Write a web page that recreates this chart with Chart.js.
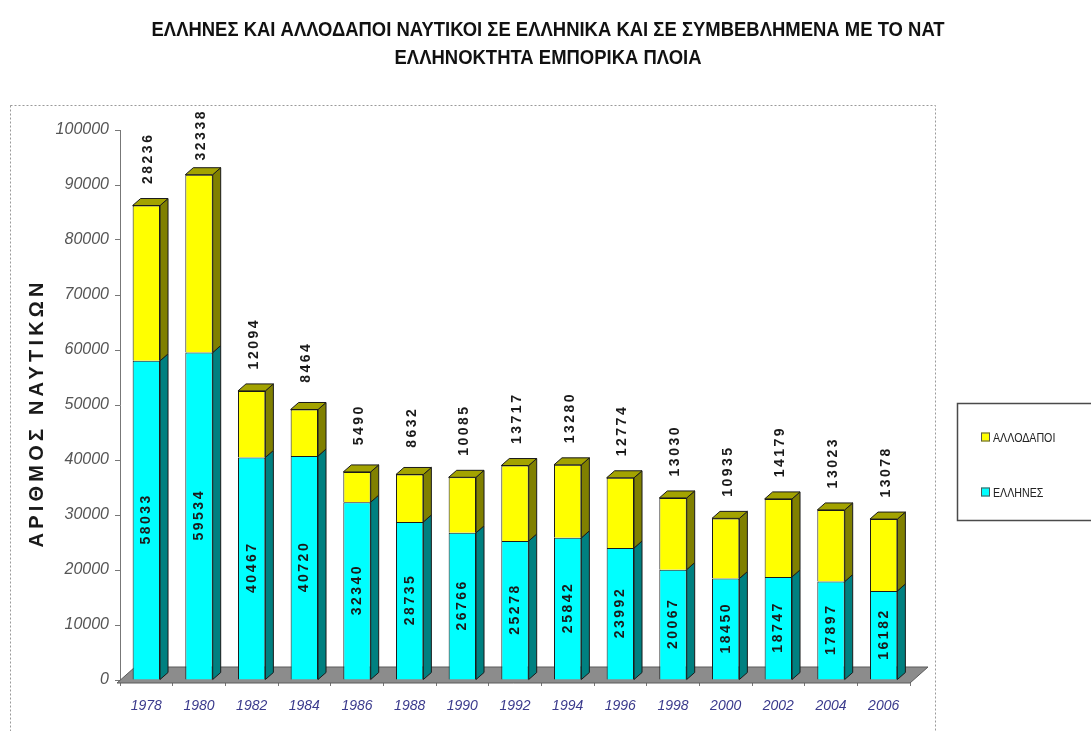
<!DOCTYPE html>
<html>
<head>
<meta charset="utf-8">
<script src="https://cdn.jsdelivr.net/npm/chart.js@4.4.1/dist/chart.umd.min.js"></script>
<style>
  html, body { margin: 0; padding: 0; background: #fff; }
  #wrap { width: 1091px; height: 731px; }
</style>
</head>
<body>
<div id="wrap"><canvas id="chart" width="1091" height="731"></canvas></div>
<script>
// data
const years = ['1978','1980','1982','1984','1986','1988','1990','1992','1994','1996','1998','2000','2002','2004','2006'];
const greeks = [58033, 59534, 40467, 40720, 32340, 28735, 26766, 25278, 25842, 23992, 20067, 18450, 18747, 17897, 16182];
const foreigners = [28236, 32338, 12094, 8464, 5490, 8632, 10085, 13717, 13280, 12774, 13030, 10935, 14179, 13023, 13078];
const titleLines = [
  'ΕΛΛΗΝΕΣ ΚΑΙ ΑΛΛΟΔΑΠΟΙ ΝΑΥΤΙΚΟΙ ΣΕ ΕΛΛΗΝΙΚΑ ΚΑΙ ΣΕ ΣΥΜΒΕΒΛΗΜΕΝΑ ΜΕ ΤΟ ΝΑΤ',
  'ΕΛΛΗΝΟΚΤΗΤΑ ΕΜΠΟΡΙΚΑ ΠΛΟΙΑ'
];
const yTitle = 'ΑΡΙΘΜΟΣ ΝΑΥΤΙΚΩΝ';
const seriesNames = ['ΕΛΛΗΝΕΣ', 'ΑΛΛΟΔΑΠΟΙ'];

const SANS = "'Liberation Sans', Arial, sans-serif";
const DX = 8, DY = -7;   // 3d depth of the columns

const sideColors = ['#008080', '#808000'];
const topColor = '#a3a300';

function polygon(ctx, pts, fill, stroke){
  ctx.beginPath();
  ctx.moveTo(pts[0][0], pts[0][1]);
  for (let i = 1; i < pts.length; i++) ctx.lineTo(pts[i][0], pts[i][1]);
  ctx.closePath();
  ctx.fillStyle = fill; ctx.fill();
  ctx.strokeStyle = stroke; ctx.lineWidth = 1; ctx.stroke();
}

function vText(ctx, txt, x, y, font, spacing, color){
  ctx.save();
  ctx.translate(x, y);
  ctx.rotate(-Math.PI / 2);
  ctx.font = font;
  ctx.letterSpacing = spacing + 'px';
  ctx.fillStyle = color;
  ctx.textAlign = 'center';
  ctx.textBaseline = 'middle';
  ctx.fillText(txt, spacing / 2, 0);
  ctx.restore();
}

// narrow text: normal font squeezed horizontally
function narrowText(ctx, txt, x, y, font, sx, align, color){
  ctx.save();
  ctx.translate(x, y);
  ctx.scale(sx, 1);
  ctx.font = font;
  ctx.letterSpacing = '0px';
  ctx.fillStyle = color;
  ctx.textAlign = align;
  ctx.textBaseline = 'middle';
  ctx.fillText(txt, 0, 0);
  ctx.restore();
}

const look3d = {
  id: 'look3d',
  beforeDraw(chart){
    const ctx = chart.ctx;
    ctx.save();
    ctx.setLineDash([2, 2]);
    ctx.strokeStyle = '#9a9a9a';
    ctx.lineWidth = 1;
    ctx.strokeRect(10.5, 105.5, 925, 700);
    ctx.restore();
    // title
    ctx.save();
    const tf = 'bold 20px ' + SANS;
    ctx.font = tf;
    const sx = 793 / ctx.measureText(titleLines[0]).width;
    titleLines.forEach((t, i) => narrowText(ctx, t, 548, 30 + i * 28, tf, sx, 'center', '#111'));
    ctx.restore();
  },
  beforeDatasetsDraw(chart){
    const ctx = chart.ctx, a = chart.chartArea;
    const y0 = chart.scales.y.getPixelForValue(0);
    ctx.save();
    polygon(ctx, [[a.left - 3, y0 + 3], [a.right, y0 + 3], [a.right + 18, y0 - 13], [a.left + 15, y0 - 13]], '#8c8c8c', '#5a5a5a');
    ctx.restore();
  },
  afterDatasetsDraw(chart){
    const ctx = chart.ctx;
    ctx.save();
    chart.data.datasets.forEach((ds, i) => {
      const meta = chart.getDatasetMeta(i);
      meta.data.forEach(bar => {
        const p = bar.getProps(['x', 'y', 'base', 'width'], true);
        const r = p.x + p.width / 2, l = p.x - p.width / 2;
        polygon(ctx, [[r, p.y], [r + DX, p.y + DY], [r + DX, p.base + DY], [r, p.base]], sideColors[i], '#1a1a1a');
        if (i === chart.data.datasets.length - 1) {
          polygon(ctx, [[l, p.y], [l + DX, p.y + DY], [r + DX, p.y + DY], [r, p.y]], topColor, '#1a1a1a');
        }
      });
    });
    // value labels
    const m0 = chart.getDatasetMeta(0), m1 = chart.getDatasetMeta(1);
    m0.data.forEach((bar, k) => {
      const p = bar.getProps(['x', 'y', 'base'], true);
      vText(ctx, String(greeks[k]), p.x, (p.y + p.base) / 2, 'bold 14px ' + SANS, 2.5, '#1a1a1a');
    });
    m1.data.forEach((bar, k) => {
      const p = bar.getProps(['x', 'y'], true);
      const cy = Math.max(p.y + DY - 39, 136);
      vText(ctx, String(foreigners[k]), p.x + 2, cy, 'bold 14px ' + SANS, 2.5, '#1a1a1a');
    });
    ctx.restore();
  },
  afterDraw(chart){
    const ctx = chart.ctx;
    ctx.save();
    // axis title
    ctx.font = 'bold 20px ' + SANS;
    ctx.letterSpacing = '0px';
    const w = ctx.measureText(yTitle).width;
    const sp = Math.max(0, (265 - w) / (yTitle.length - 1));
    vText(ctx, yTitle, 37, 415, 'bold 20px ' + SANS, sp, '#1a1a1a');
    // legend box
    ctx.setLineDash([]);
    ctx.strokeStyle = '#4a4a4a';
    ctx.lineWidth = 1.5;
    ctx.strokeRect(957.5, 403.5, 150, 117);
    const items = [1, 0];
    items.forEach((di, n) => {
      const ds = chart.data.datasets[di];
      const y = 437 + n * 55;
      ctx.fillStyle = ds.backgroundColor;
      ctx.fillRect(981, y - 4.5, 9, 9);
      ctx.strokeStyle = '#555';
      ctx.lineWidth = 1;
      ctx.strokeRect(981.5, y - 4, 8, 8);
      narrowText(ctx, ds.label, 993, y + 1, '13px ' + SANS, 0.82, 'left', '#222');
    });
    ctx.restore();
  }
};

new Chart(document.getElementById('chart').getContext('2d'), {
  type: 'bar',
  data: {
    labels: years,
    datasets: [
      { label: seriesNames[0], data: greeks, backgroundColor: '#00ffff', borderColor: '#1a1a1a', borderWidth: 1 },
      { label: seriesNames[1], data: foreigners, backgroundColor: '#ffff00', borderColor: '#1a1a1a', borderWidth: 1 }
    ]
  },
  options: {
    responsive: false,
    animation: false,
    barPercentage: 0.52,
    categoryPercentage: 1,
    layout: { padding: { left: 0, right: 181, top: 130, bottom: 0 } },
    plugins: {
      legend: { display: false },
      tooltip: { enabled: false },
      title: { display: false }
    },
    scales: {
      x: {
        stacked: true,
        afterFit: s => { s.height = 51; },
        border: { display: false },
        grid: { drawOnChartArea: false, drawTicks: true, tickLength: 6, color: '#777', offset: true },
        ticks: { color: '#3a3a8c', padding: 12, font: { family: SANS, size: 14, style: 'italic' }, maxRotation: 0 }
      },
      y: {
        stacked: true,
        min: 0,
        max: 100000,
        afterFit: s => { s.width = 120; },
        border: { display: true, color: '#777' },
        grid: { drawOnChartArea: false, drawTicks: true, tickLength: 5, color: '#777' },
        ticks: { stepSize: 10000, color: '#555', padding: 6, font: { family: SANS, size: 16, style: 'italic' }, callback: v => String(v) }
      }
    }
  },
  plugins: [look3d]
});
</script>
</body>
</html>
